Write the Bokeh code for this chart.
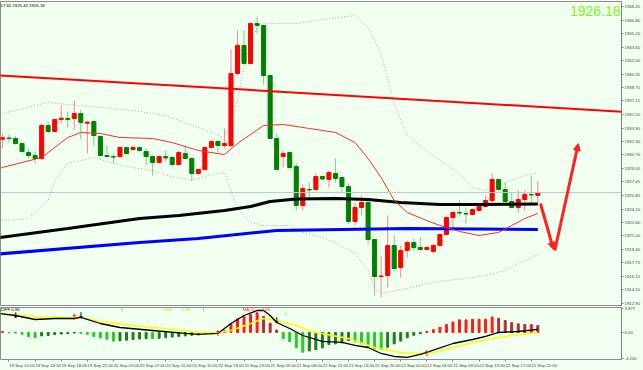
from bokeh.plotting import figure
from bokeh.layouts import column
from bokeh.models import (ColumnDataSource, FixedTicker, Range1d, Span, Label,
                          Arrow, NormalHead, Slope)
from bokeh.core.properties import value
from bokeh.embed import file_html
from bokeh.resources import INLINE

# ---------------- data (hourly bars, XAU) ----------------
open_ = [1932.57, 1932.71, 1932.65, 1932.05, 1930.97, 1930.61, 1930.26, 1934.21, 1933.49, 1934.92,
         1935.04, 1935.04, 1935.64, 1934.48, 1934.68, 1932.89, 1930.61, 1930.49, 1930.49, 1931.57,
         1931.33, 1931.57, 1931.09, 1930.49, 1929.78, 1930.49, 1930.37, 1929.54, 1930.85, 1930.26,
         1928.46, 1928.94, 1931.57, 1932.29, 1931.81, 1931.81, 1940.43, 1943.78, 1941.63, 1946.41,
         1946.18, 1940.19, 1932.65, 1930.49, 1930.97, 1929.30, 1924.63, 1926.55, 1926.55, 1928.10,
         1927.74, 1928.46, 1927.98, 1926.90, 1922.71, 1924.39, 1924.99, 1920.56, 1916.13, 1916.25,
         1919.84, 1917.21, 1919.24, 1920.20, 1919.60, 1919.36, 1919.12, 1919.84, 1921.16, 1923.19,
         1923.79, 1923.67, 1923.55, 1924.03, 1924.51, 1925.23, 1927.74, 1926.55, 1925.11, 1924.39,
         1925.35, 1925.95, 1925.83]
high = [1933.25, 1933.13, 1932.89, 1932.17, 1931.45, 1931.09, 1934.45, 1934.68, 1935.04, 1936.60,
        1935.88, 1937.20, 1936.12, 1934.80, 1934.92, 1933.01, 1931.81, 1930.85, 1931.69, 1931.69,
        1931.81, 1931.69, 1931.45, 1930.61, 1930.61, 1931.21, 1930.49, 1931.21, 1931.81, 1930.37,
        1929.06, 1931.69, 1932.41, 1932.41, 1933.85, 1943.30, 1945.58, 1945.58, 1946.53, 1947.25,
        1946.30, 1940.31, 1933.25, 1931.21, 1931.09, 1929.66, 1927.14, 1927.38, 1928.46, 1928.22,
        1928.82, 1930.26, 1928.10, 1927.26, 1924.99, 1925.83, 1925.23, 1920.56, 1918.64, 1923.43,
        1921.04, 1919.84, 1920.44, 1920.68, 1920.80, 1919.72, 1920.08, 1921.28, 1923.43, 1924.03,
        1925.23, 1924.39, 1924.27, 1924.63, 1925.83, 1928.46, 1927.86, 1927.38, 1926.19, 1926.43,
        1926.43, 1928.22, 1927.62]
low = [1931.45, 1932.17, 1931.93, 1930.97, 1930.26, 1929.66, 1930.14, 1933.25, 1933.37, 1934.45,
       1933.97, 1933.73, 1932.53, 1930.85, 1931.81, 1930.49, 1930.37, 1929.66, 1930.37, 1930.73,
       1931.21, 1931.09, 1929.42, 1928.22, 1929.66, 1929.90, 1929.30, 1929.42, 1930.14, 1927.62,
       1928.34, 1928.82, 1931.45, 1930.97, 1931.45, 1931.57, 1940.19, 1941.51, 1941.51, 1945.22,
       1939.11, 1932.53, 1928.82, 1929.18, 1928.94, 1924.03, 1924.03, 1925.47, 1926.43, 1927.62,
       1926.78, 1927.38, 1926.19, 1922.48, 1922.24, 1923.43, 1919.96, 1913.86, 1913.62, 1914.81,
       1916.85, 1916.01, 1918.41, 1919.24, 1919.24, 1919.24, 1918.88, 1919.72, 1921.04, 1921.64,
       1923.43, 1922.48, 1923.43, 1923.91, 1924.39, 1924.87, 1926.43, 1924.99, 1924.27, 1923.79,
       1924.03, 1924.87, 1924.87]
close = [1932.73, 1932.65, 1932.05, 1931.09, 1930.61, 1930.26, 1934.21, 1933.49, 1934.92, 1935.08,
         1934.92, 1935.64, 1934.57, 1934.60, 1933.01, 1930.61, 1930.49, 1930.43, 1931.57, 1930.85,
         1931.57, 1931.21, 1930.49, 1929.78, 1930.49, 1930.32, 1929.54, 1930.97, 1930.26, 1928.46,
         1928.94, 1931.57, 1932.29, 1931.81, 1932.05, 1940.43, 1943.78, 1941.63, 1946.41, 1946.18,
         1940.19, 1932.65, 1928.94, 1930.85, 1929.18, 1924.63, 1926.66, 1926.49, 1928.10, 1927.80,
         1928.58, 1927.86, 1926.90, 1922.71, 1924.39, 1924.99, 1920.56, 1916.13, 1916.19, 1919.84,
         1917.09, 1919.24, 1920.20, 1919.60, 1919.36, 1919.60, 1919.84, 1921.16, 1923.19, 1923.79,
         1923.73, 1923.61, 1924.15, 1924.51, 1925.23, 1927.74, 1926.55, 1925.11, 1924.39, 1925.35,
         1925.95, 1925.89, 1926.18]

# moving averages / bands read at selected bars (bar index, price)
ma_black_x = [-1, 10, 21, 27, 34, 38, 41, 45, 51, 56, 61, 67, 73, 82]
ma_black_y = [1920.74, 1921.88, 1923.07, 1923.43, 1924.03, 1924.51, 1925.11, 1925.41, 1925.47,
              1925.35, 1924.99, 1924.75, 1924.75, 1924.81]
ma_blue_x = [-1, 21, 30, 42, 52, 62, 82]
ma_blue_y = [1918.80, 1920.20, 1920.68, 1921.64, 1921.76, 1921.88, 1921.76]
ma_red_x = [-1, 0, 6, 10, 12, 15, 18, 23, 26, 30, 34, 36, 40, 43, 47, 51, 54, 56, 58, 60, 62,
            65, 67, 70, 73, 76, 78, 80, 82]
ma_red_y = [1928.94, 1929.18, 1930.37, 1932.77, 1933.37, 1933.25, 1932.77, 1932.65, 1932.17,
            1931.21, 1930.73, 1932.05, 1934.21, 1934.33, 1933.85, 1933.37, 1932.17, 1930.26,
            1927.98, 1925.23, 1923.79, 1922.83, 1922.24, 1921.52, 1921.04, 1921.40, 1922.24,
            1923.07, 1923.67]
bb_up_x = [-1, 0, 7, 10, 15, 20, 25, 30, 34, 35, 36, 37, 38, 39, 40, 45, 50, 54, 56, 58, 60,
           62, 67, 70, 72, 74, 77, 80, 82]
bb_up_y = [1935.52, 1935.64, 1936.96, 1936.72, 1936.36, 1936.00, 1935.40, 1933.97, 1932.77,
           1934.80, 1937.20, 1941.27, 1944.14, 1945.82, 1946.41, 1946.41, 1947.01, 1947.37,
           1945.94, 1942.82, 1936.84, 1933.01, 1930.02, 1928.46, 1926.78, 1926.43, 1927.38,
           1928.22, 1928.58]
bb_lo_x = [-1, 0, 4, 7, 8, 10, 14, 17, 20, 23, 26, 29, 32, 34, 35, 36, 38, 40, 44, 46, 49, 51,
           54, 56, 57, 58, 62, 65, 68, 71, 74, 77, 79, 82]
bb_lo_y = [1922.83, 1922.83, 1923.07, 1925.23, 1927.62, 1929.66, 1930.37, 1929.66, 1929.18,
           1928.82, 1928.10, 1927.62, 1928.34, 1928.58, 1926.43, 1924.27, 1922.60, 1922.24,
           1922.24, 1921.40, 1920.80, 1920.20, 1918.88, 1916.85, 1914.69, 1914.09, 1914.69,
           1915.29, 1915.65, 1915.89, 1916.25, 1916.85, 1917.69, 1918.76]
trend_x = [0, 82]
trend_y = [1940.18, 1936.45]
bid = 1926.18
arrow_dn = ([82.4, 1924.87], [84.4, 1919.36])
arrow_up = ([84.6, 1919.24], [88.2, 1932.05])

price_ticks = [1948.45, 1946.80, 1945.20, 1943.60, 1942.00, 1940.35, 1938.75, 1937.15, 1935.50,
               1933.90, 1932.30, 1930.70, 1929.05, 1927.45, 1925.85, 1924.20, 1922.60, 1921.00,
               1919.40, 1917.75, 1916.15, 1914.55, 1912.90]

# MACD sub window
macd_hist = [0.15, -0.05, -0.1, -0.3, -0.7, -0.85, -0.55, -0.5, -0.35, -0.25,
             -0.2, -0.1, -0.15, -0.3, -0.65, -0.9, -1.1, -1.4, -1.35, -1.25,
             -1.15, -1.05, -1.0, -1.0, -0.95, -0.85, -0.75, -0.65, -0.55, -0.45,
             -0.4, -0.1, 0.0, 0.1, 0.3, 1.4, 2.2, 2.6, 2.9, 3.2,
             2.6, 1.5, 0.4, -1.0, -1.5, -2.5, -3.2, -3.0, -2.8, -2.5,
             -1.95, -1.85, -1.7, -1.3, -1.55, -1.85, -2.4, -2.65, -2.8, -2.4,
             -1.85, -1.4, -0.85, -0.45, -0.2, 0.2, 0.45, 0.85, 1.3, 1.7,
             2.05, 2.05, 2.15, 2.15, 2.15, 2.5, 2.3, 1.95, 1.6, 1.4,
             1.3, 1.3, 1.15]
diff_x = [-1, 2, 5, 8, 11, 12, 15, 18, 23, 28, 30, 33, 35, 37, 39, 40, 41, 42, 44, 46, 49, 52,
          54, 56, 58, 60, 62, 64, 65, 69, 72, 74, 76, 79, 82]
diff_y = [3.15, 2.76, 2.11, 2.27, 2.27, 2.44, 1.46, 0.81, 0.32, -0.16, -0.32, -0.16, 1.46, 2.76,
          3.57, 3.57, 2.76, 1.62, 0.65, -0.49, -1.46, -1.62, -2.11, -2.44, -3.41, -3.90, -4.06,
          -3.57, -3.25, -1.79, -1.14, -0.65, 0.0, 0.16, 0.49]
dea_x = [-1, 5, 10, 12, 15, 20, 25, 30, 33, 35, 38, 40, 42, 45, 48, 53, 57, 61, 64, 66, 69, 72,
         75, 78, 82]
dea_y = [3.15, 2.60, 2.44, 2.44, 1.79, 1.14, 0.65, 0.0, 0.0, 0.32, 1.46, 2.27, 1.95, 1.14, 0.0,
         -0.97, -2.44, -3.25, -3.41, -3.25, -2.44, -1.62, -0.97, -0.49, 0.0]
cross_dn_x = [2, 12, 42]
cross_dn_y = [2.76, 2.76, 1.95]
cross_up_x = [11, 33, 65]
cross_up_y = [2.44, -0.16, -3.41]
macd_ticks = [3.877, 0.0, -4.245]
macd_tick_labels = ["3.877", "0.00", "-4.245"]

time_bars = [1 + 4 * k for k in range(21)]
time_labels = ["19 Sep 10:00", "19 Sep 14:00", "19 Sep 18:00", "19 Sep 22:00", "20 Sep 03:00",
               "20 Sep 07:00", "20 Sep 11:00", "20 Sep 15:00", "20 Sep 19:00", "20 Sep 23:00",
               "21 Sep 03:00", "21 Sep 08:00", "21 Sep 12:00", "21 Sep 16:00", "21 Sep 20:00",
               "22 Sep 00:00", "22 Sep 04:00", "22 Sep 09:00", "22 Sep 13:00", "22 Sep 17:00",
               "22 Sep 21:00"]

# ---------------- styling ----------------
BG = "#F0FFF0"
FONT = "Liberation Sans"
TICK_FS = "4.3px"
BAR_PX = 6.55
FRAME_W = 623
x_start = -0.3
xr = Range1d(x_start, x_start + FRAME_W / BAR_PX)

n = len(open_)
xs = list(range(n))
is_up = [c >= o for o, c in zip(open_, close)]
src = ColumnDataSource(dict(
    x=xs, high=high, low=low,
    btop=[max(o, c) for o, c in zip(open_, close)],
    bbot=[min(o, c) for o, c in zip(open_, close)],
    bcol=["#FF0000" if u else "#008000" for u in is_up],
    wcol=["#F28A8A" if u else "#86C886" for u in is_up],
))

p1 = figure(width=643, height=306, x_range=xr, y_range=Range1d(1912.66, 1949.05),
            output_backend="svg", toolbar_location=None, x_axis_location=None,
            y_axis_location="right", min_border_left=0, min_border_right=20,
            min_border_top=1, min_border_bottom=1, background_fill_color=BG,
            border_fill_color=BG, outline_line_color="#8C8C8C")
p1.grid.visible = False
ax = p1.yaxis[0]
ax.ticker = FixedTicker(ticks=price_ticks)
ax.major_label_overrides = {t: f"{t:.2f}" for t in price_ticks}
ax.major_label_text_font_size = TICK_FS
ax.major_label_text_font = FONT
ax.major_label_standoff = 1
ax.major_tick_out = 2
ax.major_tick_in = 0
ax.minor_tick_out = 0
ax.minor_tick_in = 0
ax.axis_line_color = "#808080"
ax.major_tick_line_color = "#808080"

# bands
p1.line(bb_up_x, bb_up_y, line_color="#A8A8A8", line_dash="1 2", line_width=1)
p1.line(bb_lo_x, bb_lo_y, line_color="#A8A8A8", line_dash="1 2", line_width=1)
p1.add_layout(Span(location=bid, dimension="width", line_color="#BCC8CC", line_width=1))

# candles
p1.segment(x0="x", y0="low", x1="x", y1="high", line_color="wcol", line_width=1, source=src)
p1.vbar(x="x", width=0.62, top="btop", bottom="bbot", fill_color="bcol", line_color="bcol",
        line_width=1, source=src)

# moving averages
p1.line(ma_black_x, ma_black_y, line_color="black", line_width=3)
p1.line(ma_blue_x, ma_blue_y, line_color="#0000FF", line_width=3)
p1.line(ma_red_x, ma_red_y, line_color="#F03030", line_width=1)

# trend line
grad = (trend_y[1] - trend_y[0]) / (trend_x[1] - trend_x[0])
p1.add_layout(Slope(gradient=grad, y_intercept=trend_y[0] - grad * trend_x[0],
                    line_color="#FF0000", line_width=2))

# hand-drawn arrows
for (a, b) in (arrow_dn, arrow_up):
    p1.add_layout(Arrow(end=NormalHead(size=7, fill_color="#FF2020", line_color="#FF2020"),
                        x_start=a[0], y_start=a[1], x_end=b[0], y_end=b[1],
                        line_color="#FF2020", line_width=3))

# texts
p1.text(x=[x_start], y=[1948.55], text=["17.65 1925.42 1926.18"], text_font=value(FONT),
        text_font_size="4.3px", text_color="black", text_baseline="middle", text_align="left")
p1.text(x=[x_start + 622 / BAR_PX], y=[1947.9], text=[f"{bid:.2f}"], text_font=value(FONT),
        text_font_size="14px", text_color="#84F01C", text_baseline="middle", text_align="right")
p1.add_layout(Label(x=x_start + FRAME_W / BAR_PX, y=bid, x_offset=1, text=f"{bid:.2f}",
                    text_font=FONT, text_font_size=TICK_FS, text_color="white",
                    text_baseline="middle", background_fill_color="black"))

# ---------------- MACD window ----------------
hist_col = []
for i, h in enumerate(macd_hist):
    prev = macd_hist[i - 1] if i > 0 else h
    if h >= 0:
        hist_col.append("#FF1A1A" if h >= prev else "#A83232")
    else:
        hist_col.append("#22CC22" if h <= prev else "#1E7A1E")

p2 = figure(width=643, height=64, x_range=xr, y_range=Range1d(-4.39, 4.06),
            output_backend="svg", toolbar_location=None, y_axis_location="right",
            min_border_left=0, min_border_right=20, min_border_top=1, min_border_bottom=11,
            background_fill_color=BG, border_fill_color=BG, outline_line_color="#8C8C8C")
p2.grid.visible = False
ay = p2.yaxis[0]
ay.ticker = FixedTicker(ticks=macd_ticks)
ay.major_label_overrides = dict(zip(macd_ticks, macd_tick_labels))
ay.major_label_text_font_size = TICK_FS
ay.major_label_text_font = FONT
ay.major_label_standoff = 1
ay.major_tick_out = 2
ay.major_tick_in = 0
ay.minor_tick_out = 0
ay.minor_tick_in = 0
ay.axis_line_color = "#808080"
ay.major_tick_line_color = "#808080"

label_shift = 2.0  # time labels start at their bar
axx = p2.xaxis[0]
centers = [b + label_shift for b in time_bars]
axx.ticker = FixedTicker(ticks=centers, minor_ticks=time_bars)
axx.major_label_overrides = dict(zip(centers, time_labels))
axx.major_label_text_font_size = TICK_FS
axx.major_label_text_font = FONT
axx.major_label_standoff = 1
axx.major_tick_line_color = None
axx.major_tick_out = 2
axx.minor_tick_out = 2
axx.minor_tick_in = 0
axx.minor_tick_line_color = "#808080"
axx.axis_line_color = None

p2.vbar(x=xs, width=0.3, top=macd_hist, bottom=0, fill_color=hist_col, line_color=hist_col)
p2.line(dea_x, dea_y, line_color="#FFFF00", line_width=1.5)
p2.line(diff_x, diff_y, line_color="black", line_width=1.3)
p2.text(x=cross_dn_x, y=cross_dn_y, text=["↓"] * len(cross_dn_x), text_font=value("DejaVu Sans"),
        text_font_size="8px", text_font_style="bold", text_color="black",
        text_align="center", text_baseline="middle")
p2.text(x=cross_up_x, y=cross_up_y, text=["↑"] * len(cross_up_x), text_font=value("DejaVu Sans"),
        text_font_size="8px", text_font_style="bold", text_color="#FF2020",
        text_align="center", text_baseline="middle")

lab_x = [x_start, 24.6, 27.3, 36.8, 39.7]
lab_t = ["DIFF 0.96", "DEA", "-0.96", "MACD", "0.96"]
lab_c = ["black", "#E6D800", "#E6D800", "#FF3030", "#FF3030"]
p2.text(x=lab_x, y=[3.7] * 5, text=lab_t, text_color=lab_c, text_font=value(FONT),
        text_font_size="4.3px", text_baseline="middle", text_align="left")
p2.text(x=[18.3, 30.8], y=[3.6, 3.6], text=["↑", "↑"], text_color="#FF7070",
        text_font=value("DejaVu Sans"), text_font_size="5px", text_align="center",
        text_baseline="middle")
p2.text(x=[43.4], y=[3.1], text=["↓"], text_color="#66DD66", text_font=value("DejaVu Sans"),
        text_font_size="5px", text_align="center", text_baseline="middle")

layout = column(p1, p2, spacing=0)
open("out.html", "w").write(file_html(layout, INLINE))
